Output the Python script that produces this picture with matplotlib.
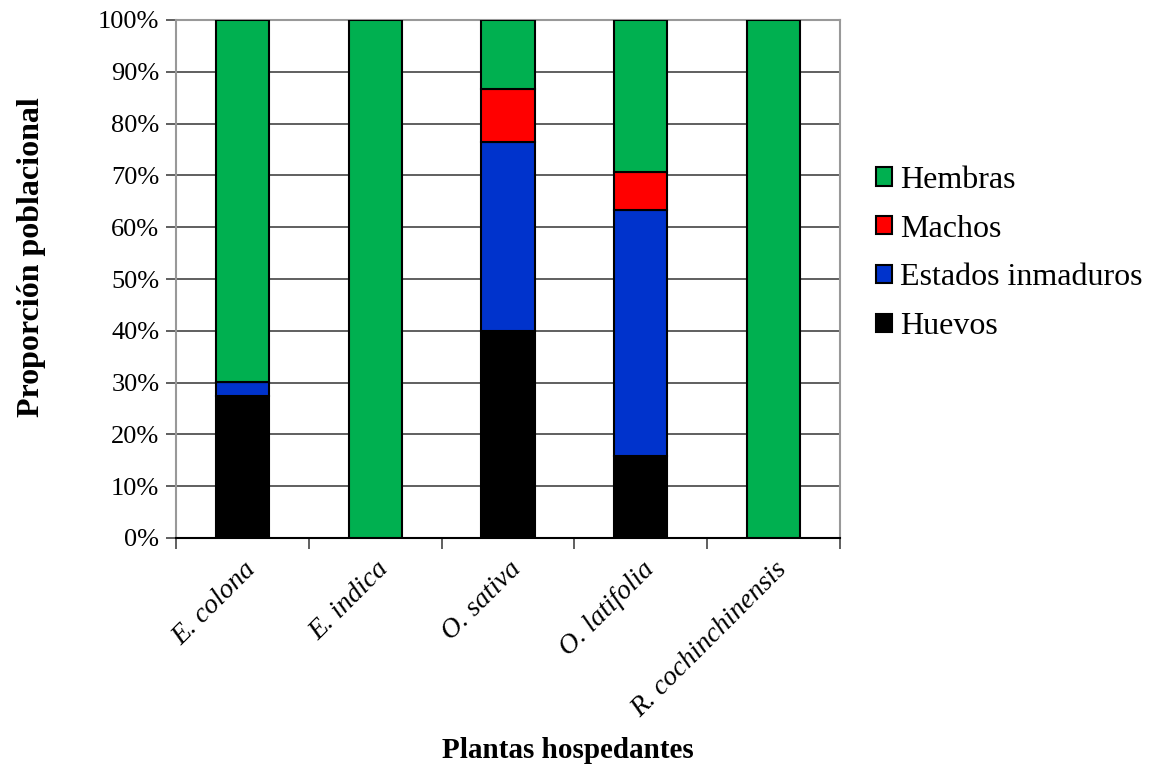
import numpy as np
import matplotlib
matplotlib.use("Agg")
import matplotlib.pyplot as plt
from matplotlib.ticker import PercentFormatter, FixedLocator

plt.rcParams["font.family"] = ["Liberation Serif", "DejaVu Serif"]

plantas = ["E. colona", "E. indica", "O. sativa", "O. latifolia", "R. cochinchinensis"]
huevos = [27.4, 0.0, 39.9, 15.9, 0.0]
inmaduros = [2.8, 0.0, 36.6, 47.5, 0.0]
machos = [0.0, 0.0, 10.1, 7.2, 0.0]
hembras = [69.8, 100.0, 13.4, 29.4, 100.0]

series = [
    ("Huevos", huevos, "#000000"),
    ("Estados inmaduros", inmaduros, "#0033CC"),
    ("Machos", machos, "#FF0000"),
    ("Hembras", hembras, "#00B050"),
]

fig = plt.figure(figsize=(11.51, 7.69), dpi=100)
ax = fig.add_axes([176 / 1151, 1 - 538 / 769, 664 / 1151, 518 / 769])

x = np.arange(len(plantas))
bottom = np.zeros(len(plantas))
handles = []
for name, vals, color in series:
    vals = np.array(vals)
    b = ax.bar(x, vals, width=0.4, bottom=bottom, color=color,
               edgecolor="black", linewidth=1.5, label=name, zorder=3)
    handles.append(b)
    bottom += vals

ax.set_xlim(-0.5, len(plantas) - 0.5)
ax.set_ylim(0, 100)
ax.set_yticks(np.arange(0, 101, 10))
ax.yaxis.set_major_formatter(PercentFormatter(decimals=0))
ax.grid(axis="y", color="#444444", linewidth=1.2, zorder=0)

# invisible major ticks carry the labels (nudged right like Excel), minor ticks mark the category boundaries
ax.set_xticks(x + 0.07)
ax.set_xticklabels(plantas, rotation=45, ha="right", va="center",
                   rotation_mode="anchor", fontstyle="italic", fontsize=20)
ax.tick_params(axis="x", which="major", length=0, pad=20)
ax.xaxis.set_minor_locator(FixedLocator(np.arange(-0.5, len(plantas), 1.0)))
ax.tick_params(axis="x", which="minor", length=8, width=1.2, color="#444444")
ax.tick_params(axis="y", length=7, width=1.2, color="#444444", labelsize=19, pad=5)

for side in ["top", "right", "left"]:
    ax.spines[side].set_color("#999999")
    ax.spines[side].set_linewidth(1.5)
ax.spines["bottom"].set_color("black")
ax.spines["bottom"].set_linewidth(1.5)

fig.text(32 / 1151, 1 - 257 / 769, "Proporción poblacional", fontsize=23,
         fontweight="bold", rotation=90, ha="center", va="center")
fig.text(568 / 1151, 1 - 750 / 769, "Plantas hospedantes", fontsize=21,
         fontweight="bold", ha="center", va="center")

leg = fig.legend(handles[::-1], [s[0] for s in series][::-1],
                 loc="upper left", bbox_to_anchor=(863 / 1151, 1 - 153 / 769),
                 frameon=False, fontsize=23, handlelength=0.5, handleheight=0.5,
                 handletextpad=0.25, labelspacing=0.62, borderaxespad=0)

fig.savefig("out.png", dpi=100)
